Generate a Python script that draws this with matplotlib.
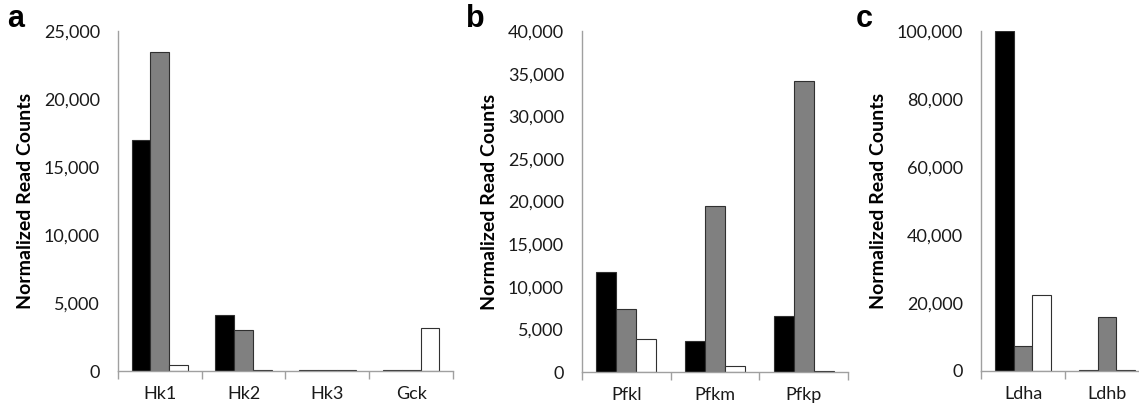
import matplotlib
matplotlib.use("Agg")
import matplotlib.pyplot as plt
from matplotlib.ticker import FuncFormatter, FixedLocator
import numpy as np

# panel a: hexokinases
genes_a = ["Hk1", "Hk2", "Hk3", "Gck"]
black_a = [17000, 4100, 40, 40]
gray_a = [23450, 3000, 40, 40]
white_a = [450, 60, 40, 3150]

# panel b: phosphofructokinases
genes_b = ["Pfkl", "Pfkm", "Pfkp"]
black_b = [11750, 3600, 6550]
gray_b = [7400, 19500, 34100]
white_b = [3850, 700, 120]

# panel c: lactate dehydrogenases
genes_c = ["Ldha", "Ldhb"]
black_c = [100000, 300]
gray_c = [7300, 15900]
white_c = [22200, 300]

plt.rcParams['font.family'] = ['Lato', 'DejaVu Sans']

fig = plt.figure(figsize=(11.39, 4.03), dpi=100)

panels = [
    ("a", genes_a, black_a, gray_a, white_a, 25000, 5000, [0.1036, 0.0794, 0.2941, 0.8436]),
    ("b", genes_b, black_b, gray_b, white_b, 40000, 5000, [0.5110, 0.0769, 0.2335, 0.8461]),
    ("c", genes_c, black_c, gray_c, white_c, 100000, 20000, [0.8613, 0.0800, 0.1475, 0.8430]),
]
letter_x = {"a": 0.006, "b": 0.409, "c": 0.751}

fmt = FuncFormatter(lambda v, p: "{:,.0f}".format(v))
w = 0.225

for letter, genes, blk, gry, wht, ymax, step, pos in panels:
    ax = fig.add_axes(pos)
    x = np.arange(len(genes))
    ax.bar(x - w, blk, w, color="black", edgecolor="#303030", linewidth=0.8)
    ax.bar(x, gry, w, color="#808080", edgecolor="#303030", linewidth=0.8)
    ax.bar(x + w, wht, w, color="white", edgecolor="#303030", linewidth=0.8)
    ax.set_xlim(-0.5, len(genes) - 0.5)
    ax.set_ylim(0, ymax)
    ax.set_yticks(np.arange(0, ymax + 1, step))
    ax.yaxis.set_major_formatter(fmt)
    ax.tick_params(axis="y", length=0, pad=13, labelsize=13, colors="#1a1a1a")
    # category boundaries as major ticks, names on minor ticks
    ax.xaxis.set_major_locator(FixedLocator(np.arange(len(genes) + 1) - 0.5))
    ax.xaxis.set_minor_locator(FixedLocator(x))
    ax.set_xticklabels([], minor=False)
    ax.set_xticklabels(genes, minor=True)
    ax.tick_params(axis="x", which="major", length=6, color="#a0a0a0", width=1)
    ax.tick_params(axis="x", which="minor", length=0, pad=11, labelsize=13, colors="#1a1a1a")
    for s in ["top", "right"]:
        ax.spines[s].set_visible(False)
    for s in ["left", "bottom"]:
        ax.spines[s].set_color("#a0a0a0")
        ax.spines[s].set_linewidth(1)
    ax.set_ylabel("Normalized Read Counts", fontsize=14, fontweight="bold", labelpad=7)
    fig.text(letter_x[letter], 0.99, letter, fontsize=22, fontweight="bold",
             family="Liberation Sans", va="top", ha="left")

fig.savefig("out.png", dpi=100)
